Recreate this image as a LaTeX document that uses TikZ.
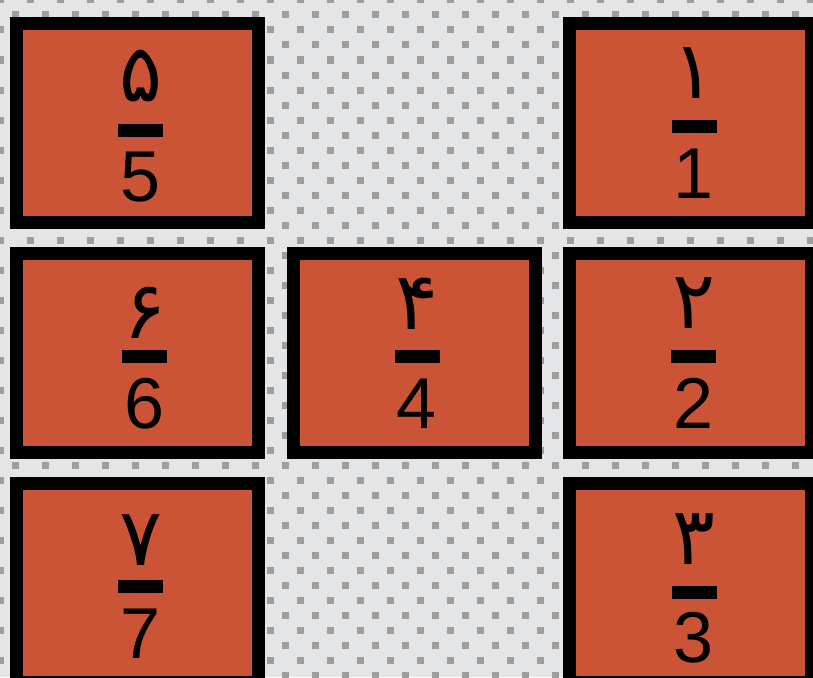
\documentclass[tikz,border=0pt]{standalone}
\usepackage{fontspec}
\setmainfont{Liberation Sans}
\newfontfamily\arabicfont[Script=Arabic]{DejaVu Sans}
\definecolor{boxfill}{RGB}{203,84,54}
\definecolor{bgc}{RGB}{228,229,231}
\definecolor{dotc}{RGB}{158,158,158}
\tikzset{
  tile/.style={draw=black, line width=13pt, fill=boxfill, minimum width=242pt, minimum height=199pt, inner sep=0pt, outer sep=0pt},
  bar/.style={fill=black, minimum width=45pt, minimum height=13pt, inner sep=0pt, outer sep=0pt},
  latin/.style={anchor=base, inner sep=0pt, font=\fontsize{72}{72}\selectfont},
  persian/.style={anchor=center, inner sep=0pt, font=\arabicfont\fontsize{80}{80}\selectfont}
}
\begin{document}
\begin{tikzpicture}[x=1pt,y=-1pt]
\useasboundingbox (0,0) rectangle (813,677);
\clip (0,0) rectangle (813,677);
\fill[bgc] (0,0) rectangle (813,677);
\foreach \j in {0,...,23} {
  \foreach \i in {0,...,27} {
    \fill[dotc] (30*\i-3.5,30*\j-3.5) rectangle ++(7,7);
    \fill[dotc] (30*\i+11.5,30*\j+11.5) rectangle ++(7,7);
  }
}
% boxes
\node[tile] (b5) at (137.5,123) {};
\node[tile] (b1) at (690.5,123) {};
\node[tile] (b6) at (137.5,353) {};
\node[tile] (b4) at (414.5,353) {};
\node[tile] (b2) at (690.5,353) {};
\node[tile] (b7) at (137.5,583) {};
\node[tile] (b3) at (690.5,583) {};
% box 5
\node[persian] (p5) at (140.5,76) {۵};
\node[bar] (r5) at (140.5,130) {};
\node[latin] (l5) at (140.5,201) {5};
% box 1
\node[persian] (p1) at (694,73.5) {۱};
\node[bar] (r1) at (694,126.5) {};
\node[latin] (l1) at (694,198) {1};
% box 6
\node[persian] (p6) at (144.5,312.5) {۶};
\node[bar] (r6) at (144.5,356.5) {};
\node[latin] (l6) at (144.5,428) {6};
% box 4
\node[persian] (p4) at (417,303.5) {۴};
\node[bar] (r4) at (417,356.5) {};
\node[latin] (l4) at (417,428) {4};
% box 2
\node[persian] (p2) at (693.5,303.5) {۲};
\node[bar] (r2) at (693.5,356.5) {};
\node[latin] (l2) at (693.5,428) {2};
% box 7
\node[persian] (p7) at (140.5,540) {۷};
\node[bar] (r7) at (140.5,586.5) {};
\node[latin] (l7) at (140.5,658) {7};
% box 3
\node[persian] (p3) at (694,539) {۳};
\node[bar] (r3) at (694,592.5) {};
\node[latin] (l3) at (694,662) {3};
\end{tikzpicture}
\end{document}
